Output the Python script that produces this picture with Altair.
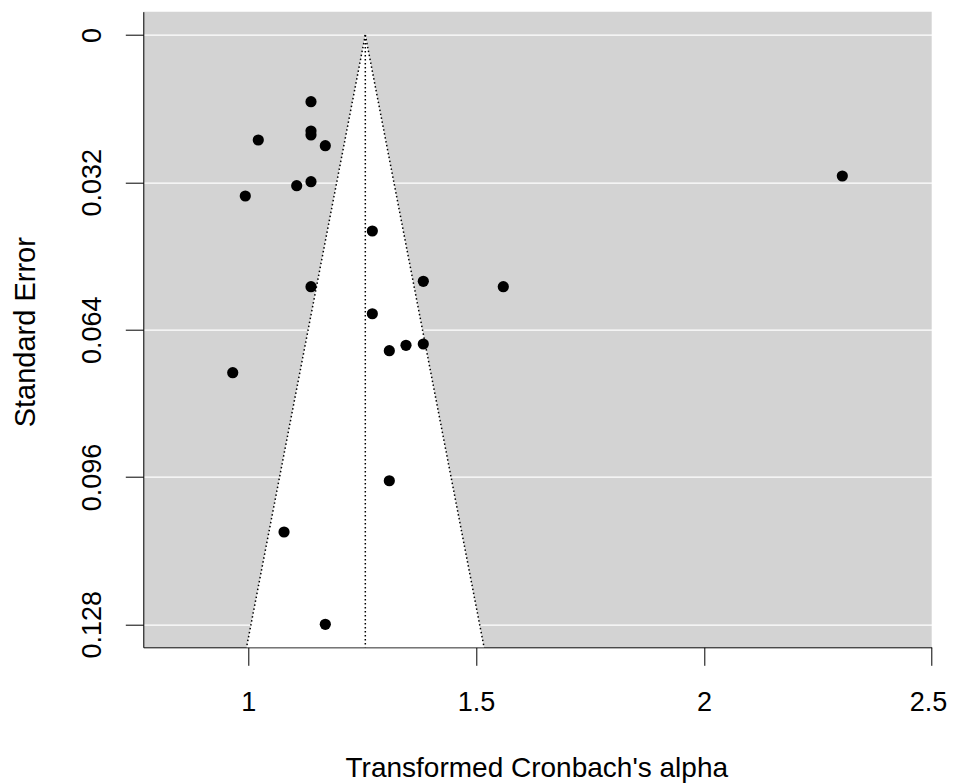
import altair as alt
import pandas as pd

# Study estimates (transformed alpha) and their standard errors
est = [1.1376, 1.1376, 1.1376, 1.0219, 1.1690, 1.1376, 1.1062, 0.9934, 2.3038,
       1.2722, 1.3841, 1.1376, 1.5597, 1.2722, 1.3095, 1.3461, 1.3841, 0.9658,
       1.3095, 1.0784, 1.1690]
se = [0.01449, 0.02085, 0.02172, 0.02281, 0.02404, 0.03186, 0.03273, 0.03497, 0.03063,
      0.04257, 0.05350, 0.05467, 0.05467, 0.06054, 0.06857, 0.06740, 0.06712, 0.07335,
      0.09681, 0.10795, 0.12800]

center = 1.2568          # pooled estimate (vertical dotted line)
z = 1.96                 # pseudo-confidence multiplier of the funnel

x_ticks = [1, 1.5, 2, 2.5]
y_ticks = [0, 0.032, 0.064, 0.096, 0.128]
x_lim = [0.7695, 2.5]
y_lim = [-0.00506, 0.13299]

pts = pd.DataFrame({"est": est, "se": se})
funnel_se = [0.0, y_lim[1]]
funnel = pd.DataFrame({
    "se": funnel_se,
    "lo": [center - z * s for s in funnel_se],
    "hi": [center + z * s for s in funnel_se],
})
cline = pd.DataFrame({"c": [center], "s0": [0.0], "s1": [y_lim[1]]})

FONT = "Liberation Sans"
FS = 27

x_axis = alt.Axis(values=x_ticks, format="~g", title="Transformed Cronbach's alpha",
                  grid=False, domainColor="black", domainWidth=1, tickColor="black",
                  tickWidth=1, tickSize=18, labelFontSize=FS, labelColor="black",
                  labelFont=FONT, labelBaseline="alphabetic", labelPadding=44.7,
                  labelFlush=True, labelFlushOffset=15, labelOverlap=False,
                  titleFont=FONT, titleFontSize=28, titleFontWeight="normal",
                  titleColor="black", titleBaseline="alphabetic", titleAlign="center",
                  titleX=393, titleY=128.7)
y_axis = alt.Axis(values=y_ticks, format=".3~f", title="Standard Error",
                  grid=True, gridColor="white", gridWidth=1.2,
                  domainColor="black", domainWidth=1, tickColor="black",
                  tickWidth=1, tickSize=18, labelFontSize=FS, labelColor="black",
                  labelFont=FONT, labelAngle=270, labelAlign="center",
                  labelBaseline="alphabetic", labelPadding=25.3,
                  labelFlush=False, labelOverlap=False,
                  titleFont=FONT, titleFontSize=29, titleFontWeight="normal",
                  titleColor="black", titleAngle=270, titleBaseline="alphabetic",
                  titleAlign="center", titleX=-109.3, titleY=320)

xs = alt.Scale(domain=x_lim, nice=False, zero=False)
ys = alt.Scale(domain=y_lim, nice=False, zero=False, reverse=True)

def X(f):
    return alt.X(f, type="quantitative", scale=xs, axis=x_axis)

def Y(f):
    return alt.Y(f, type="quantitative", scale=ys, axis=y_axis)

area = alt.Chart(funnel).mark_area(color="white", opacity=1, orient="horizontal").encode(
    y=Y("se"), x=X("lo"), x2="hi")

dash = [1.5, 2.5]
LW = 1.5
left_edge = alt.Chart(funnel).mark_line(color="black", strokeWidth=LW, strokeDash=dash).encode(
    x=X("lo"), y=Y("se"), order="se:Q")
right_edge = alt.Chart(funnel).mark_line(color="black", strokeWidth=LW, strokeDash=dash).encode(
    x=X("hi"), y=Y("se"), order="se:Q")
center_rule = alt.Chart(cline).mark_rule(color="black", strokeWidth=LW, strokeDash=dash).encode(
    x=X("c"), y=Y("s0"), y2="s1")

points = alt.Chart(pts).mark_circle(size=125, color="black", opacity=1).encode(
    x=X("est"), y=Y("se"))

chart = alt.layer(area, left_edge, right_edge, center_rule, points).properties(
    width=788.4, height=635.6,
    autosize=alt.AutoSizeParams(type="none"),
    padding={"left": 135.3, "top": 3.7, "right": 15.3, "bottom": 135.7},
    background="white",
).configure_view(fill="#d3d3d3", strokeWidth=0)

chart.save("out.html", embed_options={"renderer": "svg", "actions": False})
